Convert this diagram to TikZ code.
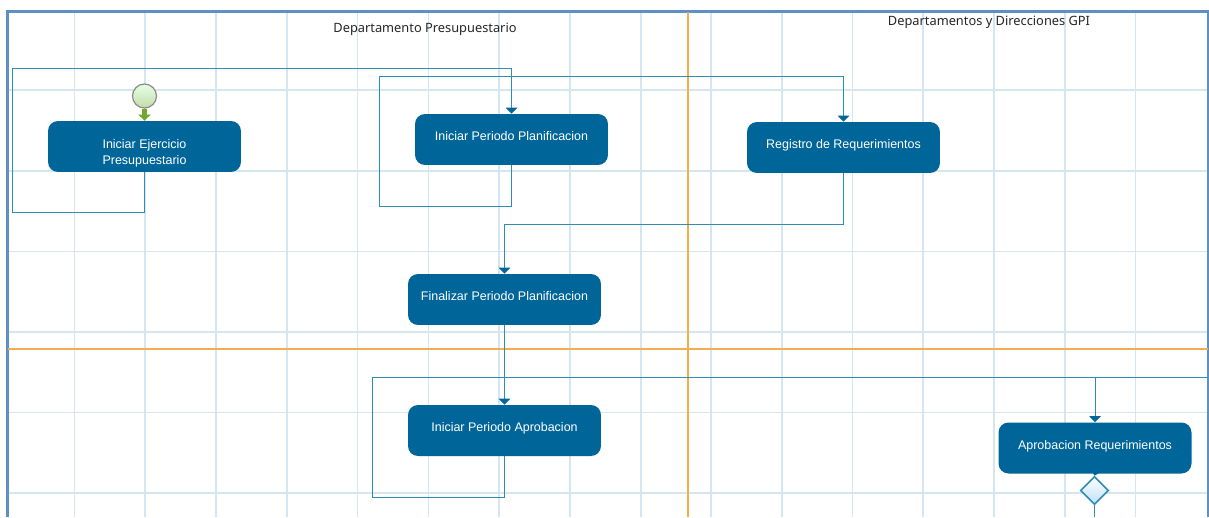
\documentclass[tikz,border=0pt]{standalone}
\usepackage{fontspec}
\setmainfont{Liberation Sans}
\newfontfamily\titlefont{Noto Sans}
\usetikzlibrary{arrows.meta,shapes.geometric}
\definecolor{taskblue}{HTML}{00669A}
\definecolor{flowblue}{HTML}{2F8DB3}
\definecolor{gridblue}{HTML}{D6E6F1}
\definecolor{laneorange}{HTML}{F2AE4E}
\definecolor{frameblue}{HTML}{5E90C4}
\definecolor{startgreen}{HTML}{6FA82A}
\definecolor{gatefill}{HTML}{BFE0F6}
\tikzset{
	task/.style={fill=taskblue,text=white,rounded corners=2mm,minimum width=3.86cm,minimum height=1.02cm,inner sep=0pt,font=\fontsize{7.1}{8.9}\selectfont,align=center},
	upper/.style={text depth=4pt},
	flow/.style={flowblue,line width=0.55pt},
	title/.style={font=\titlefont\fontsize{7.3}{9}\selectfont,text=black!85}
}
\begin{document}
\begin{tikzpicture}[x=0.02cm,y=-0.02cm,>={Triangle[length=3.4pt,width=6.5pt,color=taskblue]}]
	\useasboundingbox (0,0) rectangle (1209,517);
	\fill[white] (0,0) rectangle (1209,517);
	% grid
	\foreach \gx in {74.5,145,216,287,357.5,428.5,499,570,641,711,782,852.5,923,994,1065,1135.5}
		\draw[gridblue,line width=0.8pt] (\gx,12)--(\gx,517);
	\foreach \gy in {90,171,251.5,332,412.5,493}
		\draw[gridblue,line width=0.8pt] (8,\gy)--(1208,\gy);
	% lanes
	\draw[frameblue,line width=1.2pt] (7.5,517)--(7.5,11.5)--(1208,11.5)--(1208,517);
	\draw[laneorange,line width=1.05pt] (687.8,12)--(687.8,517);
	\draw[laneorange,line width=1.2pt] (8,349)--(1208,349);
	\node[title] (lane1) at (425,29) {Departamento Presupuestario};
	\node[title] (lane2) at (989,22) {Departamentos y Direcciones GPI};
	% tasks
	\node[task] (ejercicio) at (144.5,146.5) {\rule{0pt}{13pt}Iniciar Ejercicio\\Presupuestario};
	\node[task,upper] (planificacion) at (511.5,139.5) {Iniciar Periodo Planificacion};
	\node[task,upper] (registro) at (843.5,147.5) {Registro de Requerimientos};
	\node[task,upper] (finalizar) at (504.5,299.5) {Finalizar Periodo Planificacion};
	\node[task,upper] (aprobacion) at (504.5,430.5) {Iniciar Periodo Aprobacion};
	\node[task,upper] (requerimientos) at (1095,448) {Aprobacion Requerimientos};
	\node[circle,draw=black!45,line width=0.7pt,top color=green!10!white,bottom color=startgreen!40!white,minimum size=0.48cm,inner sep=0pt] (inicio) at (144.5,96) {};
	\node[diamond,draw=flowblue,line width=0.9pt,top color=white,bottom color=gatefill,minimum size=0.56cm,inner sep=0pt] (gateway) at (1094.5,490.5) {};
	% turning points
	\coordinate (borde) at (1208,377);
	\coordinate (salida) at (1094.5,517);
	% flows
	\draw[-{Triangle[length=3.5pt,width=7pt,color=startgreen]},startgreen,line width=2.4pt] (inicio)--(ejercicio);
	\draw[flow,->] (ejercicio.south)--(144.5,212)--(12,212)--(12,68)--(511.5,68)--(planificacion.north);
	\draw[flow,->] (planificacion.south)--(511.5,206)--(379,206)--(379,76)--(843.5,76)--(registro.north);
	\draw[flow,->] (registro.south)--(843.5,224)--(504.5,224)--(finalizar.north);
	\draw[flow,->] (finalizar)--(aprobacion);
	\draw[flow] (aprobacion.south)--(504.5,497)--(372,497)--(372,377)--(borde);
	\draw[flow,->] (requerimientos.north |- borde)--(requerimientos.north);
	\draw[taskblue,line width=0.8pt,->] (requerimientos.south)--(gateway.north);
	\draw[flow] (gateway.south)--(salida);
\end{tikzpicture}
\end{document}
